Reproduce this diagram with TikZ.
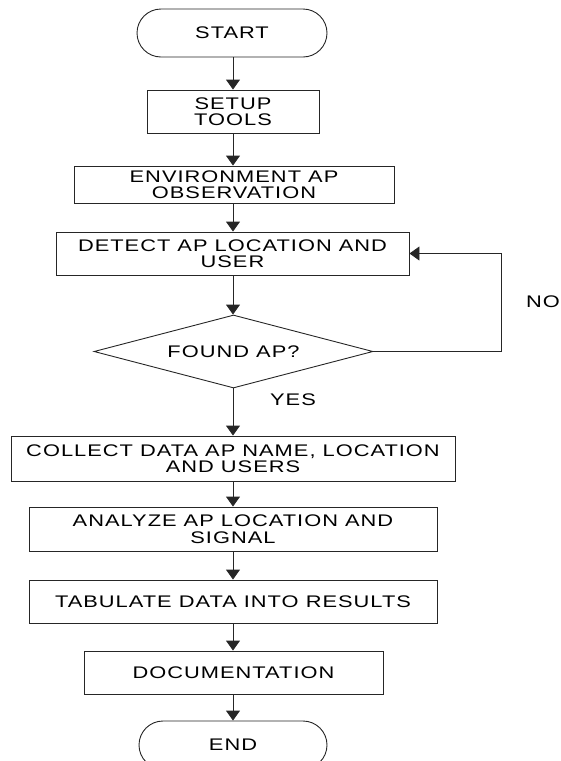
\documentclass[tikz,border=0pt]{standalone}
\usepackage{fontspec}
\setmainfont{Liberation Sans}[FakeStretch=1.3,LetterSpace=6]
\usetikzlibrary{arrows.meta,shapes.geometric,shapes.misc}
\begin{document}
\begin{tikzpicture}[x=1pt,y=-1pt,
  every node/.style={font=\fontsize{16.8}{16.5}\selectfont, align=center, inner sep=0pt},
  boxnode/.style={draw=black!85, line width=0.9pt, rectangle},
  termnode/.style={draw=black!85, line width=0.9pt, rounded rectangle},
  decnode/.style={draw=black!85, line width=0.9pt, diamond, aspect=3.8},
  arr/.style={draw=black!85, line width=0.9pt, -{Triangle[width=14pt,length=10pt]}},
  lbl/.style={font=\fontsize{16.8}{16.5}\selectfont}]
\useasboundingbox (0,0) rectangle (561,761);
\node[termnode, minimum width=190pt, minimum height=48pt] (start) at (232,33) {START};
\node[boxnode, minimum width=172pt, minimum height=43pt] (setup) at (233,111.5) {SETUP\\TOOLS};
\node[boxnode, minimum width=320pt, minimum height=37pt] (env) at (234,184.5) {ENVIRONMENT AP\\OBSERVATION};
\node[boxnode, minimum width=353pt, minimum height=43pt] (detect) at (232.5,253.5) {DETECT AP LOCATION AND\\USER};
\node[decnode, minimum width=279pt, minimum height=73pt] (found) at (233.5,351.5) {};
\node at (233.5,351.5) (foundtxt) {FOUND AP?};
\node[boxnode, minimum width=444pt, minimum height=45pt] (collect) at (233,458.5) {COLLECT DATA AP NAME, LOCATION\\AND USERS};
\node[boxnode, minimum width=408pt, minimum height=44pt] (analyze) at (233,529) {ANALYZE AP LOCATION AND\\SIGNAL};
\node[boxnode, minimum width=408pt, minimum height=43pt] (tab) at (233,601.5) {TABULATE DATA INTO RESULTS};
\node[boxnode, minimum width=299pt, minimum height=43pt] (doc) at (233.5,672.5) {DOCUMENTATION};
\node[termnode, minimum width=188pt, minimum height=48pt] (end) at (233,745) {END};
\node[lbl] (yes) at (293,400) {YES};
\node[lbl, anchor=east] (no) at (560,302) {NO};
\draw[arr] (start.south -| 233,0) -- (setup.north -| 233,0);
\draw[arr] (setup.south -| 233,0) -- (env.north -| 233,0);
\draw[arr] (env.south -| 233,0) -- (detect.north -| 233,0);
\draw[arr] (detect.south -| 233,0) -- (found.north -| 233,0);
\draw[arr] (found.south -| 233,0) -- (collect.north -| 233,0);
\draw[arr] (collect.south -| 233,0) -- (analyze.north -| 233,0);
\draw[arr] (analyze.south -| 233,0) -- (tab.north -| 233,0);
\draw[arr] (tab.south -| 233,0) -- (doc.north -| 233,0);
\draw[arr] (doc.south -| 233,0) -- (end.north -| 233,0);
\draw[arr] (found.east) -- ++(128,0) |- (detect.east);
\end{tikzpicture}
\end{document}
